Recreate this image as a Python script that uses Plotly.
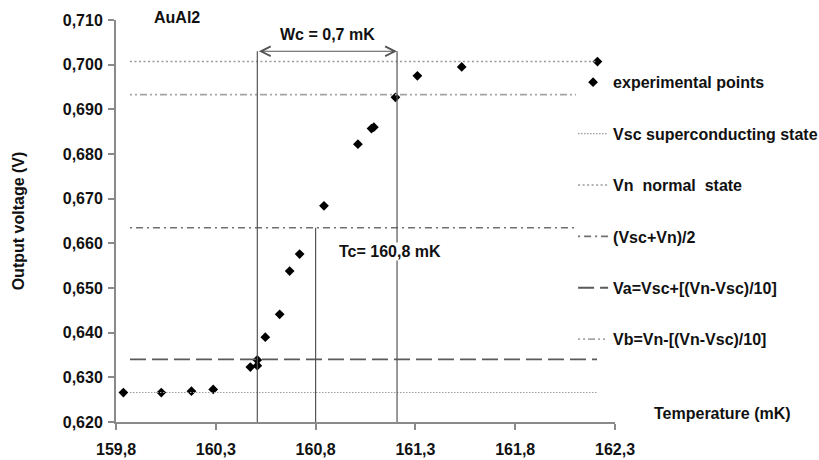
import plotly.graph_objects as go

# Measured transition of the AuAl2 sample
temperature_mK = [159.837, 160.027, 160.178, 160.287, 160.473, 160.508, 160.508,
                  160.548, 160.620, 160.670, 160.720, 160.842, 161.012, 161.080,
                  161.092, 161.200, 161.310, 161.532, 162.212]
output_V = [0.6266, 0.6266, 0.6269, 0.6273, 0.6323, 0.6326, 0.6339,
            0.6390, 0.6441, 0.6538, 0.6576, 0.6684, 0.6822, 0.6857,
            0.6860, 0.6927, 0.6975, 0.6995, 0.7007]

# Reference voltage levels (V) and the temperature span each line covers
level_names = ["Vsc superconducting state", "Vn  normal  state", "(Vsc+Vn)/2",
               "Va=Vsc+[(Vn-Vsc)/10]", "Vb=Vn-[(Vn-Vsc)/10]"]
level_values = [0.6266, 0.7007, 0.6635, 0.6340, 0.6933]
level_T_start = [159.87, 159.87, 159.87, 159.87, 159.87]
level_T_end = [162.21, 162.21, 162.105, 162.21, 162.105]

# Transition markers
Ta_mK = 160.508          # crossing of Va
Wc_mK = 0.7              # transition width
Tb_mK = Ta_mK + Wc_mK    # crossing of Vb
Tc_mK = 160.8
V_axis_min = 0.620
V_axis_max = 0.710
V_arrow = 0.7030

x_ticks = [159.8, 160.3, 160.8, 161.3, 161.8, 162.3]

FONT = "Liberation Sans, Arial, sans-serif"
fs = 16
bold = dict(family=FONT, size=fs, color="#111111", weight="bold")

level_styles = [
    dict(color="#9c9c9c", width=1.2, dash="1.5px,1.5px"),
    dict(color="#9a9a9a", width=1.6, dash="2px,2.5px"),
    dict(color="#707070", width=1.6, dash="2px,4px,7px,4px"),
    dict(color="#5a5a5a", width=1.8, dash="16px,6px"),
    dict(color="#a5a5a5", width=1.6, dash="2px,3px,2px,3px,7px,3px"),
]

fig = go.Figure()

fig.add_trace(go.Scatter(
    x=temperature_mK, y=output_V, mode="markers", name="experimental points",
    marker=dict(symbol="diamond", size=7.5, color="black"),
    legendgroup="g0",
))

for i, (nm, v, t0, t1, st) in enumerate(zip(level_names, level_values,
                                             level_T_start, level_T_end, level_styles)):
    fig.add_trace(go.Scatter(
        x=[t0, t1], y=[v, v], mode="lines", name=nm, line=st,
        legendgroup=f"g{i+1}", hoverinfo="skip",
    ))

# Vertical guides at Ta, Tb and Tc
vline = dict(color="#555555", width=1.2)
for t, top in [(Ta_mK, V_arrow), (Tb_mK, V_arrow), (Tc_mK, level_values[2])]:
    fig.add_trace(go.Scatter(x=[t, t], y=[V_axis_min, top], mode="lines",
                             line=vline, showlegend=False, hoverinfo="skip"))

# Width arrow between Ta and Tb
fig.add_annotation(x=Tb_mK, y=V_arrow, ax=Ta_mK, ay=V_arrow, xref="x", yref="y",
                   axref="x", ayref="y", text="", showarrow=True,
                   arrowhead=5, startarrowhead=5, arrowside="end+start",
                   arrowsize=1.6, arrowwidth=1.2, arrowcolor="#555555")

fig.add_annotation(x=(Ta_mK + Tb_mK) / 2, y=0.7068, xref="x", yref="y",
                   text="Wc = 0,7 mK", showarrow=False, font=bold)
fig.add_annotation(x=161.175, y=0.6581, xref="x", yref="y",
                   text="Tc= 160,8 mK", showarrow=False, font=bold,
                   bgcolor="white", borderpad=0)
fig.add_annotation(x=0.072, y=1.005, xref="paper", yref="paper", xanchor="left",
                   yanchor="middle", text="AuAl2", showarrow=False, font=bold)
fig.add_annotation(x=1.075, y=0.0215, xref="paper", yref="paper", xanchor="left",
                   yanchor="middle", text="Temperature (mK)", showarrow=False,
                   font=bold)

axis_common = dict(
    showline=True, linecolor="#8a8a8a", linewidth=2, showgrid=False, zeroline=False,
    ticks="outside", ticklen=6, tickwidth=1.5, tickcolor="#8a8a8a",
    tickfont=bold, automargin=False,
)

fig.update_layout(
    width=819, height=460,
    margin=dict(l=116, r=204, t=20, b=38, autoexpand=False),
    paper_bgcolor="white", plot_bgcolor="white",
    separators=",.",
    showlegend=True,
    legend=dict(x=0.916, y=0.8875, xanchor="left", yanchor="top",
                traceorder="grouped", tracegroupgap=27.6,
                font=bold, bgcolor="rgba(0,0,0,0)", borderwidth=0),
    xaxis=dict(range=[159.8, 162.3], tickvals=x_ticks, tickformat=".1f",
               ticklabelstandoff=6, **axis_common),
    yaxis=dict(range=[V_axis_min, V_axis_max], dtick=0.01, tick0=0.62,
               tickformat=".3f", ticklabelstandoff=2,
               title=dict(text="Output voltage (V)", standoff=34, font=bold),
               **axis_common),
)

fig.write_html("out.html")
